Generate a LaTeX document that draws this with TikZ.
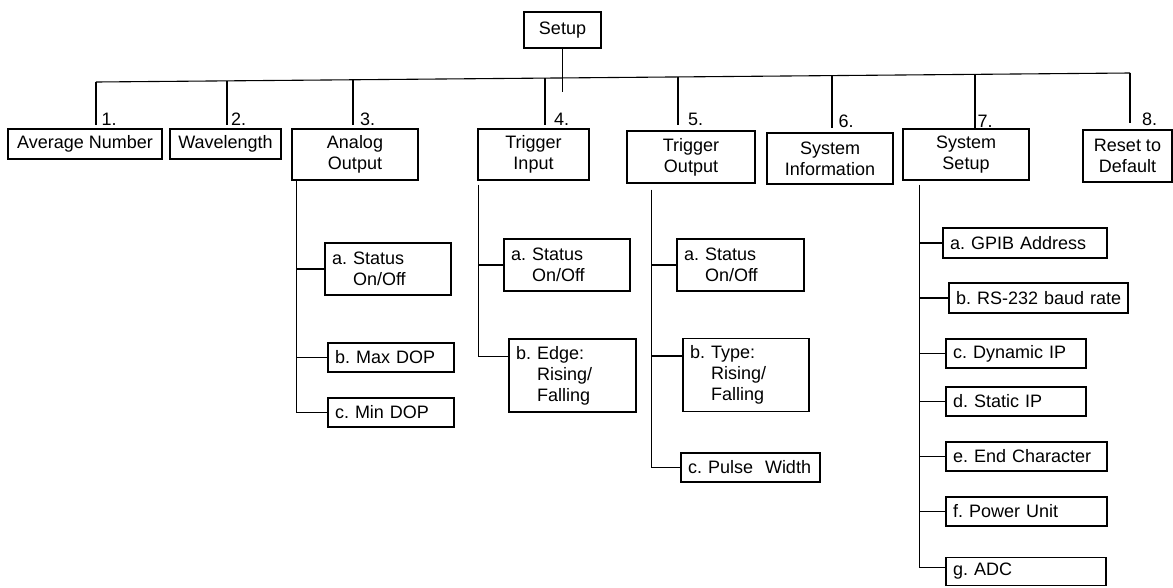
\documentclass[tikz,border=0pt]{standalone}
\usepackage{fontspec}
\setmainfont{Liberation Sans}
\frenchspacing
\definecolor{menuLine}{HTML}{000000}
\definecolor{menuText}{HTML}{000000}
\tikzset{
  menufig/.style={
    x=1pt, y=-1pt,
    every node/.append style={font=\fontsize{18}{21}\selectfont, text=menuText},
  },
  topbox/.style={draw=menuLine, line width=1.1pt, align=center, inner sep=0pt},
  % Unterpunkte: linksbuendig, feste Breite
  subbox/.style={draw=menuLine, line width=1.1pt, align=left, inner xsep=7pt,
    inner ysep=0pt, text width=#1},
  link/.style={draw=menuLine, line width=1.1pt},
  numlbl/.style={anchor=base west, inner sep=0pt},
}

\begin{document}
\begin{tikzpicture}[menufig]
  \useasboundingbox (0,0) rectangle (1173,587);
  \node[topbox, minimum width=77, minimum height=36] (Setup) at (562.5,30) {Setup};
  \node[topbox, minimum width=154, minimum height=30] (AvgNum) at (85,144) {Average Number};
  \node[topbox, minimum width=111, minimum height=30] (WaveLen) at (225.5,144) {Wavelength};
  \node[topbox, minimum width=126, minimum height=51] (AnalogOut) at (355,154.5) {Analog\\Output};
  \node[topbox, minimum width=111, minimum height=51] (TrigIn) at (533.5,154.5) {Trigger\\Input};
  \node[topbox, minimum width=128, minimum height=52] (TrigOut) at (691,157) {Trigger\\Output};
  \node[topbox, minimum width=126, minimum height=51] (SysInfo) at (830,158.5) {System\\Information};
  \node[topbox, minimum width=126, minimum height=51] (SysSetup) at (966,154.5) {System\\Setup};
  \node[topbox, minimum width=89, minimum height=52] (ResetDef) at (1127.5,156) {Reset to\\Default};

  % Sammelschiene mit den acht Abzweigen
  \coordinate (t1) at (96,82);    \coordinate (e1) at (96,125);
  \coordinate (t2) at (227,80.9); \coordinate (e2) at (227,125);
  \coordinate (t3) at (353,79.8); \coordinate (e3) at (353,125);
  \coordinate (t4) at (545,78.1); \coordinate (e4) at (545,125);
  \coordinate (t5) at (678,76.9); \coordinate (e5) at (678,125);
  \coordinate (t6) at (832,75.6); \coordinate (e6) at (832,128);
  \coordinate (t7) at (975,74.3); \coordinate (e7) at (975,128);
  \coordinate (t8) at (1130,73);  \coordinate (e8) at (1130,123);
  \draw[link] (Setup.south) -- ++(0,43);
  \draw[link] (t1) -- (t8);
  \draw[link] (t1) -- (e1);
  \draw[link] (t2) -- (e2);
  \draw[link] (t3) -- (e3);
  \draw[link] (t4) -- (e4);
  \draw[link] (t5) -- (e5);
  \draw[link] (t6) -- (e6);
  \draw[link] (t7) -- (e7);
  \draw[link] (t8) -- (e8);
  \node[numlbl] at ([xshift=5.5pt]e1) {1.};
  \node[numlbl] at ([xshift=4pt]e2) {2.};
  \node[numlbl] at ([xshift=7pt]e3) {3.};
  \node[numlbl] at ([xshift=9pt]e4) {4.};
  \node[numlbl] at ([xshift=10pt]e5) {5.};
  \node[numlbl] at ([xshift=6.5pt,yshift=1pt]e6) {6.};
  \node[numlbl] at ([xshift=2.5pt,yshift=1pt]e7) {7.};
  \node[numlbl] at ([xshift=12pt,yshift=-2pt]e8) {8.};

  % Analog Output
  \node[subbox=112pt, minimum height=52] (AOa) at (388,269) {a. Status\\\phantom{a. }On/Off};
  \node[subbox=112pt, minimum height=29] (AOb) at (391,357.5) {b. Max DOP};
  \node[subbox=112pt, minimum height=29] (AOc) at (391,412.5) {c. Min DOP};
  \coordinate (AOstem) at ([xshift=5pt]AnalogOut.south west);
  \draw[link] (AOstem) |- (AOc.west);
  \draw[link] (AOa.west) -- (AOa.west -| AOstem);
  \draw[link] (AOb.west) -- (AOb.west -| AOstem);

  % Trigger Input
  \node[subbox=112pt, minimum height=52] (TIa) at (567,265) {a. Status\\\phantom{a. }On/Off};
  \node[subbox=113pt, minimum height=73] (TIb) at (572.5,375.5) {b. Edge:\\\phantom{b. }Rising/\\\phantom{b. }Falling};
  \coordinate (TIstem) at ([xshift=1pt,yshift=-4pt]TrigIn.south west);
  \draw[link] (TIstem) |- ([yshift=-18pt]TIb.north west);
  \draw[link] (TIa.west) -- (TIa.west -| TIstem);

  % Trigger Output
  \node[subbox=113pt, minimum height=52] (TOa) at (740.5,265) {a. Status\\\phantom{a. }On/Off};
  \node[subbox=112pt, minimum height=73] (TOb) at (746,375) {b. Type:\\\phantom{b. }Rising/\\\phantom{b. }Falling};
  \node[subbox=125pt, minimum height=29] (TOc) at (750.5,467.5) {c. Pulse\ \ Width};
  \coordinate (TOstem) at ([xshift=25pt,yshift=-6pt]TrigOut.south west);
  \draw[link] (TOstem) |- (TOc.west);
  \draw[link] (TOa.west) -- (TOa.west -| TOstem);
  \draw[link] ([yshift=-18pt]TOb.north west) -- ([yshift=-18pt]TOb.north west -| TOstem);

  % System Setup
  \node[subbox=150pt, minimum height=30] (SSa) at (1025,243) {a. GPIB Address};
  \node[subbox=165pt, minimum height=30] (SSb) at (1038.5,298) {\mbox{b. RS-232 baud rate}};
  \node[subbox=126pt, minimum height=29] (SSc) at (1016,353.5) {c. Dynamic IP};
  \node[subbox=126pt, minimum height=29] (SSd) at (1016,401.5) {d. Static IP};
  \node[subbox=147pt, minimum height=29] (SSe) at (1026.5,456.5) {e. End Character};
  \node[subbox=147pt, minimum height=29] (SSf) at (1026.5,511.5) {f. Power Unit};
  \node[subbox=146pt, minimum height=28] (SSg) at (1026,571.5) {g. ADC};
  \coordinate (SSstem) at ([xshift=17pt,yshift=-4pt]SysSetup.south west);
  \draw[link] (SSstem) |- ([yshift=4pt]SSg.west);
  \draw[link] (SSa.west) -- (SSa.west -| SSstem);
  \draw[link] (SSb.west) -- (SSb.west -| SSstem);
  \draw[link] (SSc.west) -- (SSc.west -| SSstem);
  \draw[link] (SSd.west) -- (SSd.west -| SSstem);
  \draw[link] (SSe.west) -- (SSe.west -| SSstem);
  \draw[link] (SSf.west) -- (SSf.west -| SSstem);
\end{tikzpicture}
\end{document}
